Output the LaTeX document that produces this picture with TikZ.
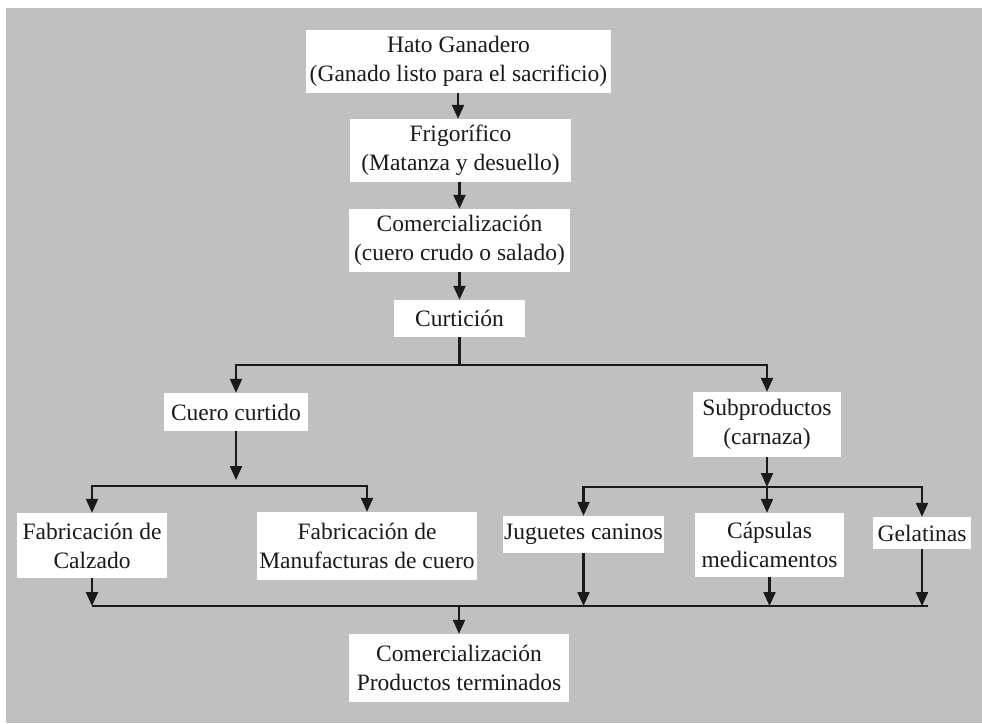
\documentclass[tikz,border=0pt]{standalone}
\usepackage{fontspec}
\setmainfont{Liberation Serif}
\usetikzlibrary{arrows.meta}
\definecolor{bggray}{HTML}{C0C0C0}
\definecolor{ink}{HTML}{1A1A1A}
\tikzset{
  box/.style={fill=white, inner sep=0pt, align=center, text=ink,
    font=\fontsize{23.5}{29}\selectfont},
  conn/.style={draw=ink, line width=2.2pt},
  arr/.style={conn, -{Triangle[length=14pt,width=12pt]}},
}
\begin{document}
\begin{tikzpicture}[x=1pt,y=-1pt]
\useasboundingbox (0,0) rectangle (982,723);
\fill[bggray] (6,8) rectangle (982,723);
% nodes
\node[box, minimum width=305pt, minimum height=63pt] (hato) at (458.5,61.5) {Hato Ganadero\\(Ganado listo para el sacrificio)};
\node[box, minimum width=221pt, minimum height=63pt] (frig) at (460.5,150.5) {Frigorífico\\(Matanza y desuello)};
\node[box, minimum width=221pt, minimum height=63pt] (com1) at (459.5,240.5) {Comercialización\\(cuero crudo o salado)};
\node[box, minimum width=131pt, minimum height=37pt] (curt) at (459.5,318.5) {Curtición};
\node[box, minimum width=144pt, minimum height=38pt] (cuero) at (236,412) {Cuero curtido};
\node[box, minimum width=148pt, minimum height=65pt] (sub) at (767,424.5) {Subproductos\\(carnaza)};
\node[box, minimum width=150pt, minimum height=65pt] (calz) at (92,545.5) {Fabricación de\\Calzado};
\node[box, minimum width=220pt, minimum height=68pt] (manu) at (367,546) {Fabricación de\\Manufacturas de cuero};
\node[box, minimum width=161pt, minimum height=37pt] (jug) at (583.5,534.5) {Juguetes caninos};
\node[box, minimum width=149pt, minimum height=64pt] (caps) at (769.5,545) {Cápsulas\\medicamentos};
\node[box, minimum width=98pt, minimum height=32pt] (gel) at (922,533) {Gelatinas};
\node[box, minimum width=220pt, minimum height=68pt] (fin) at (459,668) {Comercialización\\Productos terminados};
% coordinates
\coordinate (split1) at (459.5,365);
\coordinate (split2) at (236,486);
\coordinate (split3) at (767,487);
\coordinate (jn) at (459,606);
\coordinate (jl) at (92,606);
\coordinate (jr) at (928,606);
% connectors
\draw[arr] (hato.south -| 458,0) -- (frig.north -| 458,0);
\draw[arr] (frig.south -| 459.5,0) -- (com1.north -| 459.5,0);
\draw[arr] (com1.south) -- (curt.north);
\draw[conn] (curt.south) -- (split1);
\draw[arr] (split1) -| (cuero.north);
\draw[arr] (split1) -| (sub.north);
\draw[arr] (cuero.south) -- ([yshift=6pt]split2);
\draw[arr] (split2) -| (calz.north);
\draw[arr] (split2) -| (manu.north);
\draw[arr] (sub.south) -- (split3);
\draw[arr] (split3) -| (jug.north);
\draw[arr] (split3) -- (split3 |- caps.north);
\draw[arr] (split3) -| (gel.north);
\draw[conn] (jl) -- (jr);
\draw[arr] (calz.south) -- (jl);
\draw[arr] (jug.south) -- (jug.south |- jn);
\draw[arr] (caps.south) -- (caps.south |- jn);
\draw[arr] (gel.south) -- (gel.south |- jn);
\draw[arr] (jn) -- (fin.north);
\end{tikzpicture}
\end{document}
